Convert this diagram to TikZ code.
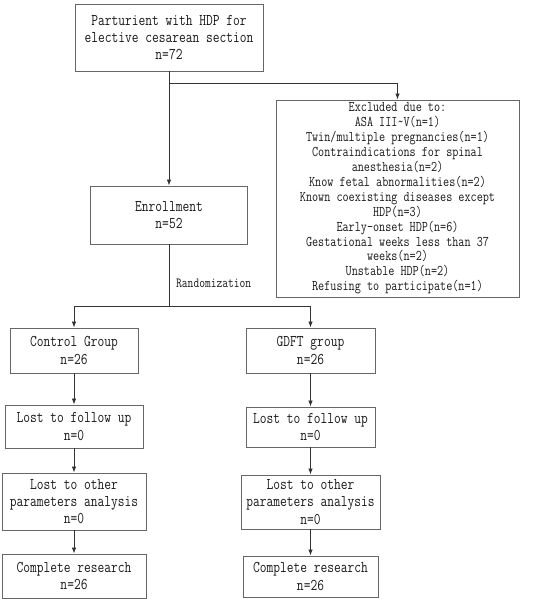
\documentclass[tikz,border=0pt]{standalone}
\usepackage{fontspec}
\setmainfont{Latin Modern Mono}[FakeStretch=0.8]
\usetikzlibrary{arrows.meta}
\tikzset{
  box/.style={draw=black!60, line width=0.9pt, align=center, inner sep=0pt,
    text=black!90, font=\fontsize{16.4}{17.4}\selectfont},
  smallbox/.style={box, font=\fontsize{14.8}{14.9}\selectfont},
  arr/.style={-{Latex[length=6pt,width=4.5pt]}, line width=0.8pt, draw=black!80},
  plain/.style={line width=0.8pt, draw=black!80},
  lbl/.style={text=black!90, font=\fontsize{14}{15}\selectfont, inner sep=0pt}
}
\begin{document}
\begin{tikzpicture}[x=1pt,y=-1pt]
\useasboundingbox (0,0) rectangle (556,599);
\node[box, minimum width=188pt, minimum height=67pt] (top) at (169,37.5)
  {Parturient with HDP for\\elective cesarean section\\n=72};
\node[smallbox, minimum width=243pt, minimum height=197pt] (excl) at (397.5,198.5)
  {Excluded due to:\\ASA III\textasciitilde V(n=1)\\Twin/multiple pregnancies(n=1)\\
   Contraindications for spinal\\anesthesia(n=2)\\Know fetal abnormalities(n=2)\\
   Known coexisting diseases except\\HDP(n=3)\\Early-onset HDP(n=6)\\
   Gestational weeks less than 37\\weeks(n=2)\\Unstable HDP(n=2)\\Refusing to participate(n=1)};
\node[box, minimum width=157pt, minimum height=58pt] (enroll) at (169,215)
  {Enrollment\\n=52};
\node[box, minimum width=128pt, minimum height=45pt] (ctrl) at (74,350.5)
  {Control Group\\n=26};
\node[box, minimum width=129pt, minimum height=45pt] (gdft) at (310.5,350.5)
  {GDFT group\\n=26};
\node[box, minimum width=138pt, minimum height=43pt] (lfL) at (74,426.5)
  {Lost to follow up\\n=0};
\node[box, minimum width=129pt, minimum height=40pt] (lfR) at (310.5,427)
  {Lost to follow up\\n=0};
\node[box, minimum width=144pt, minimum height=57pt] (loL) at (74,501.5)
  {Lost to other\\parameters analysis\\n=0};
\node[box, minimum width=139pt, minimum height=54pt] (loR) at (310.5,502)
  {Lost to other\\parameters analysis\\n=0};
\node[box, minimum width=144pt, minimum height=44pt] (cL) at (74,576)
  {Complete research\\n=26};
\node[box, minimum width=135pt, minimum height=41pt] (cR) at (310.5,576.5)
  {Complete research\\n=26};
\node[lbl, anchor=west] (rand) at (176,283) {Randomization};
\coordinate (b1) at (169,83);
\coordinate (j) at (169,306);
\draw[arr] (top.south) -- (enroll.north);
\draw[arr] (b1) -| (excl.north);
\draw[plain] (enroll.south) -- (j);
\draw[arr] (j) -| (ctrl.north);
\draw[arr] (j) -| (gdft.north);
\draw[arr] (ctrl.south) -- (lfL.north);
\draw[arr] (lfL.south) -- (loL.north);
\draw[arr] (loL.south) -- (cL.north);
\draw[arr] (gdft.south) -- (lfR.north);
\draw[arr] (lfR.south) -- (loR.north);
\draw[arr] (loR.south) -- (cR.north);
\end{tikzpicture}
\end{document}
